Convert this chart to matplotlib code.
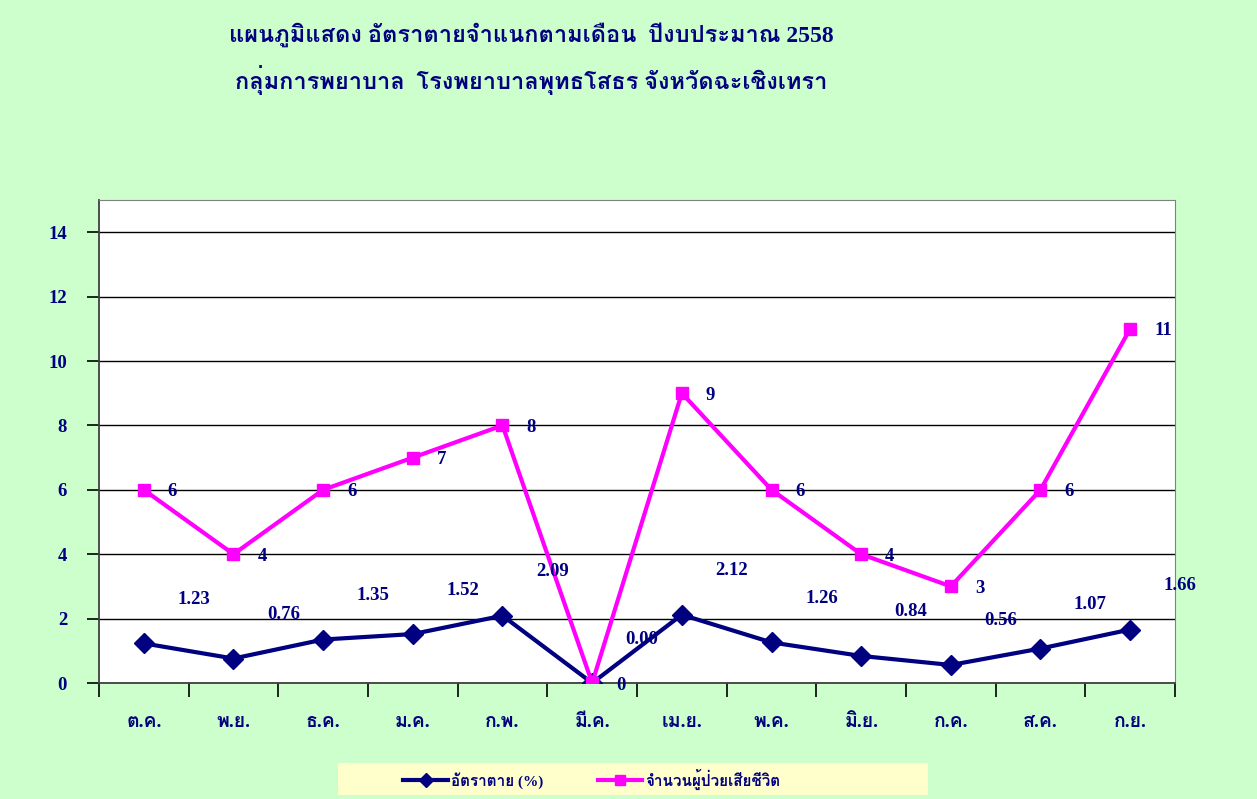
import matplotlib
matplotlib.use('Agg')
import matplotlib.pyplot as plt
from matplotlib import font_manager
from matplotlib.patches import Rectangle
import numpy as np

months = ['ต.ค.', 'พ.ย.', 'ธ.ค.', 'ม.ค.', 'ก.พ.', 'มี.ค.',
          'เม.ย.', 'พ.ค.', 'มิ.ย.', 'ก.ค.', 'ส.ค.', 'ก.ย.']
death_rate = [1.23, 0.76, 1.35, 1.52, 2.09, 0.00, 2.12, 1.26, 0.84, 0.56, 1.07, 1.66]
deaths = [6, 4, 6, 7, 8, 0, 9, 6, 4, 3, 6, 11]
y_ticks = [0, 2, 4, 6, 8, 10, 12, 14]

title1 = 'แผนภูมิแสดง อัตราตายจำแนกตามเดือน  ปีงบประมาณ 2558'
title2 = 'กลุ่มการพยาบาล  โรงพยาบาลพุทธโสธร จังหวัดฉะเชิงเทรา'
rate_name = 'อัตราตาย (%)'
deaths_name = 'จำนวนผู้ป่วยเสียชีวิต'

# find any installed font that carries Thai glyphs
thai_fonts = []
try:
    from fontTools.ttLib import TTFont
    for f in font_manager.fontManager.ttflist:
        try:
            cmap = TTFont(f.fname, fontNumber=0, lazy=True).getBestCmap()
        except Exception:
            continue
        if cmap and 0x0E01 in cmap and f.name not in thai_fonts:
            thai_fonts.append(f.name)
except ImportError:
    pass
fam = ['Liberation Serif'] + thai_fonts[:1] + ['DejaVu Sans']
plt.rcParams['font.family'] = fam

navy = '#000080'
pink = '#FF00FF'
bg = '#CCFFCC'

fig = plt.figure(figsize=(12.57, 7.99), dpi=100, facecolor=bg)
ax = fig.add_axes([99 / 1257, 1 - 683 / 799, 1076 / 1257, 483 / 799])
ax.set_facecolor('white')

x = np.arange(len(months))
ax.plot(x, death_rate, color=navy, lw=3, marker='D', ms=10, zorder=3, label=rate_name)
ax.plot(x, deaths, color=pink, lw=3, marker='s', ms=9, zorder=4, label=deaths_name)

for xi, v in zip(x, death_rate):
    ax.annotate('%.2f' % v, (xi, v), xytext=(50, 44), textcoords='offset pixels',
                ha='center', va='center', color=navy, fontsize=13.5, fontweight='bold', zorder=6)
for xi, v in zip(x, deaths):
    ax.annotate('%d' % v, (xi, v), xytext=(24, -2), textcoords='offset pixels',
                ha='left', va='center', color=navy, fontsize=13.5, fontweight='bold', zorder=6)

ax.set_xlim(-0.5, len(months) - 0.5)
ax.set_ylim(0, 15)
ax.set_yticks(y_ticks)
ax.set_yticklabels([str(t) for t in y_ticks], color=navy, fontsize=13.5, fontweight='bold')
ax.yaxis.grid(True, color='black', lw=1)
ax.set_axisbelow(True)

ax.set_xticks(np.arange(len(months) + 1) - 0.5)
ax.set_xticklabels([])
ax.set_xticks(x, minor=True)
ax.set_xticklabels(months, minor=True, color=navy, fontsize=14, fontweight='bold')
ax.tick_params(axis='x', which='minor', length=0, pad=22)
ax.tick_params(axis='x', which='major', direction='out', length=10, width=1.2)
ax.tick_params(axis='y', direction='out', length=9, width=1.2, pad=14)

for s in ['top', 'right']:
    ax.spines[s].set_color('#808080')
for s in ['left', 'bottom']:
    ax.spines[s].set_color('#404040')
    ax.spines[s].set_linewidth(1.3)

fig.text(531 / 1257, 1 - 35 / 799, title1, ha='center', va='center',
         color=navy, fontsize=17, fontweight='bold')
fig.text(531 / 1257, 1 - 80 / 799, title2, ha='center', va='center',
         color=navy, fontsize=17, fontweight='bold')

fig.patches.append(Rectangle((338 / 1257, 1 - 795 / 799), 590 / 1257, 32 / 799,
                             transform=fig.transFigure, facecolor='#FFFFCC',
                             edgecolor='none', zorder=0))
fig.legend(loc='center', bbox_to_anchor=(592 / 1257, 1 - 779 / 799), ncol=2,
           frameon=False, handlelength=2.9, columnspacing=3.6, handletextpad=0.2,
           markerscale=0.75, labelcolor=navy, prop={'weight': 'bold', 'size': 11})

fig.savefig('out.png', dpi=100, facecolor=bg)
